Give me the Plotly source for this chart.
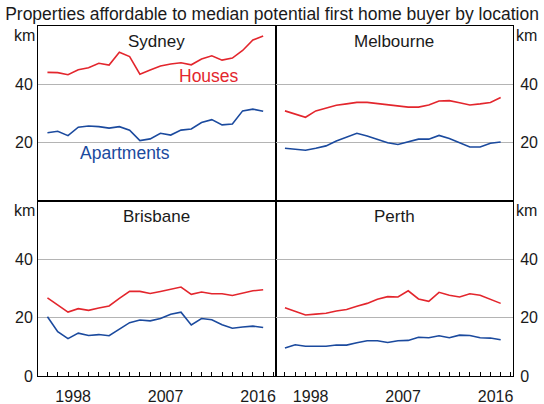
import plotly.graph_objects as go

years = list(range(1996, 2018))

sydney_houses = [44.1, 44.0, 43.3, 45.0, 45.7, 47.2, 46.6, 51.0, 49.5, 43.5, 44.9,
                 46.3, 47.0, 47.4, 46.7, 48.7, 49.8, 48.3, 49.0, 51.6, 55.2, 56.6]
sydney_apts = [23.4, 23.9, 22.4, 25.3, 25.7, 25.5, 25.0, 25.5, 24.3, 20.7, 21.3,
               23.2, 22.6, 24.3, 24.7, 26.9, 27.9, 26.1, 26.4, 30.9, 31.5, 30.8]
melb_houses = [30.9, 29.8, 28.7, 30.9, 31.8, 32.8, 33.3, 33.8, 33.8, 33.4, 33.1,
               32.7, 32.2, 32.2, 32.9, 34.3, 34.4, 33.7, 32.9, 33.3, 33.8, 35.5]
melb_apts = [18.1, 17.7, 17.4, 18.1, 18.9, 20.6, 21.8, 23.2, 22.3, 21.2, 20.0,
             19.4, 20.2, 21.2, 21.2, 22.5, 21.4, 20.0, 18.5, 18.5, 19.8, 20.2]
bris_houses = [26.8, 24.3, 21.9, 23.1, 22.5, 23.3, 24.0, 26.6, 29.0, 29.0, 28.3,
               29.0, 29.7, 30.5, 28.0, 28.8, 28.2, 28.2, 27.6, 28.4, 29.2, 29.6]
bris_apts = [20.3, 15.2, 12.8, 14.7, 13.9, 14.2, 13.8, 16.0, 18.3, 19.2, 18.9,
             19.7, 21.2, 21.9, 17.5, 19.7, 19.3, 17.6, 16.4, 16.8, 17.1, 16.6]
perth_houses = [23.4, 22.1, 20.9, 21.2, 21.5, 22.3, 22.8, 23.9, 24.9, 26.3, 27.2,
                27.1, 29.2, 26.4, 25.6, 28.7, 27.7, 27.1, 28.2, 27.7, 26.4, 24.9]
perth_apts = [9.6, 10.7, 10.2, 10.3, 10.2, 10.6, 10.6, 11.4, 12.1, 12.1, 11.5,
              12.1, 12.2, 13.3, 13.1, 13.8, 13.1, 14.0, 13.9, 13.1, 13.0, 12.4]

cities = ["Sydney", "Melbourne", "Brisbane", "Perth"]
houses = [sydney_houses, melb_houses, bris_houses, perth_houses]
apts = [sydney_apts, melb_apts, bris_apts, perth_apts]

x_label_vals = [1998.5, 2007.5, 2016.5]
x_label_text = ["1998", "2007", "2016"]

RED = "#e3262d"
BLUE = "#1b4a9e"
FONT = "Liberation Sans, Arial, sans-serif"
TXT = "#1a1a1a"

fig = go.Figure()
suffix = ["", "2", "3", "4"]
for i in range(4):
    s = suffix[i]
    fig.add_trace(go.Scatter(x=years, y=houses[i], mode="lines",
                             line=dict(color=RED, width=1.6),
                             xaxis="x" + s, yaxis="y" + s, showlegend=False,
                             hoverinfo="skip"))
    fig.add_trace(go.Scatter(x=years, y=apts[i], mode="lines",
                             line=dict(color=BLUE, width=1.6),
                             xaxis="x" + s, yaxis="y" + s, showlegend=False,
                             hoverinfo="skip"))

xr = [1995.08, 2018.2]
xdomains = [[0, 0.5], [0.5, 1], [0, 0.5], [0.5, 1]]
ydomains = [[0.5, 1], [0.5, 1], [0, 0.5], [0, 0.5]]

layout = dict()
for i in range(4):
    s = suffix[i]
    bottom = i >= 2
    right = i % 2 == 1
    xa = dict(domain=xdomains[i], range=xr, anchor="y" + s, automargin=False,
              showline=True, mirror=True, linecolor="black", linewidth=1,
              showgrid=False, zeroline=False, fixedrange=True,
              tickfont=dict(family=FONT, size=16, color=TXT))
    if bottom:
        xa.update(tickvals=x_label_vals, ticktext=x_label_text, ticks="",
                  ticklabelstandoff=6,
                  minor=dict(tick0=1996, dtick=1, ticks="inside", ticklen=4,
                             tickcolor="black", tickwidth=1, showgrid=False))
    else:
        xa.update(showticklabels=False, ticks="")
    ya = dict(domain=ydomains[i], range=[0, 60], anchor="x" + s, automargin=False,
              showline=True, mirror=True, linecolor="black", linewidth=1,
              showgrid=True, gridcolor="#b4b4b4", gridwidth=1, zeroline=False,
              tickvals=[0, 20, 40] if bottom else [20, 40], ticks="",
              ticklabelstandoff=3 if right else 1, fixedrange=True,
              side="right" if right else "left",
              tickfont=dict(family=FONT, size=16, color=TXT))
    layout["xaxis" + s] = xa
    layout["yaxis" + s] = ya

annotations = []
for i in range(4):
    s = suffix[i]
    annotations.append(dict(text=cities[i], xref="x" + s + " domain", x=0.5,
                            yref="y" + s, y=54.7, showarrow=False,
                            xanchor="center", yanchor="middle",
                            font=dict(family=FONT, size=17, color=TXT)))
    right = i % 2 == 1
    annotations.append(dict(text="km", xref="x" + s + " domain",
                            x=1 if right else 0, yref="y" + s, y=56.8,
                            showarrow=False,
                            xanchor="left" if right else "right",
                            xshift=1 if right else -1, yanchor="middle",
                            font=dict(family=FONT, size=16, color=TXT)))

annotations.append(dict(text="Houses", xref="x", yref="y", x=2011.77, y=43.0,
                        showarrow=False, xanchor="center", yanchor="middle",
                        font=dict(family=FONT, size=17.5, color=RED)))
annotations.append(dict(text="Apartments", xref="x", yref="y", x=2003.58, y=16.5,
                        showarrow=False, xanchor="center", yanchor="middle",
                        font=dict(family=FONT, size=17.5, color=BLUE)))

fig.update_layout(
    width=544, height=404,
    margin=dict(l=38, r=31, t=26, b=28, autoexpand=False),
    paper_bgcolor="white", plot_bgcolor="white",
    hovermode=False,
    title=dict(text="Properties affordable to median potential first home buyer by location",
               xref="container", x=0.5, xanchor="center",
               yref="container", y=0.965, yanchor="middle",
               font=dict(family=FONT, size=17.5, color=TXT)),
    annotations=annotations,
    **layout,
)

fig.write_html("out.html", config={"displayModeBar": False},
               post_script="document.body.style.margin='0';document.body.style.overflow='hidden';")
